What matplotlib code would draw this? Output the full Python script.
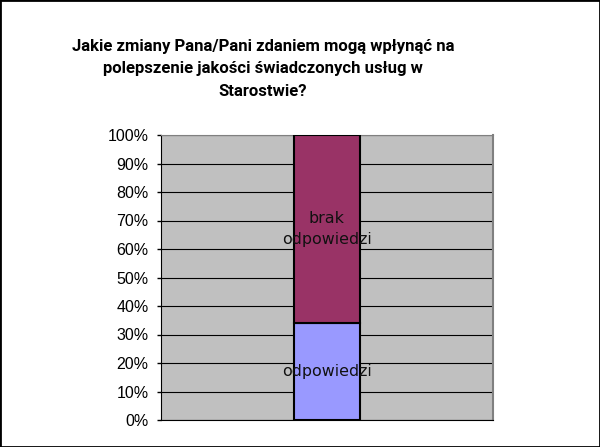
import matplotlib.pyplot as plt
from matplotlib.patches import Rectangle

# Dane
serie = ['odpowiedzi', 'brak\nodpowiedzi']
wartosci = [34, 66]
kolory = ['#9999FF', '#993366']
tytul = 'Jakie zmiany Pana/Pani zdaniem mogą wpłynąć na\npolepszenie jakości świadczonych usług w\nStarostwie?'

fig = plt.figure(figsize=(6, 4.47), dpi=100)
ax = fig.add_axes([161 / 600, 1 - 420 / 447, 332 / 600, 285 / 447])
ax.set_facecolor('#C0C0C0')

dol = 0
for nazwa, w, k in zip(serie, wartosci, kolory):
    ax.bar(0, w, width=0.2, bottom=dol, color=k, edgecolor='black', linewidth=1.5, zorder=3)
    ax.text(0, dol + w / 2, nazwa, ha='center', va='center', fontsize=11.4,
            family='DejaVu Sans', color='#111111', zorder=4, linespacing=1.55)
    dol += w

ax.set_xlim(-0.5, 0.5)
ax.set_ylim(0, 100)
ax.set_yticks(range(0, 101, 10))
ax.set_yticklabels([f'{v}%' for v in range(0, 101, 10)], family='Liberation Sans', fontsize=11.5)
ax.set_xticks([])
ax.yaxis.grid(True, color='black', linewidth=0.8, zorder=1)
ax.set_axisbelow(True)
ax.tick_params(axis='y', direction='out', length=3, width=1, pad=6)
ax.spines['left'].set_color('black')
ax.spines['bottom'].set_color('black')
ax.spines['top'].set_color('#808080')
ax.spines['right'].set_color('#808080')
ax.spines['right'].set_linewidth(1.5)

fig.text(263 / 600, 1 - 69 / 447, tytul, ha='center', va='center', fontsize=12,
         fontweight='bold', family='Roboto', linespacing=1.6)

fig.patches.append(Rectangle((0, 0), 1, 1, transform=fig.transFigure, fill=False,
                             edgecolor='black', linewidth=2))

fig.savefig('out.png', dpi=100)
